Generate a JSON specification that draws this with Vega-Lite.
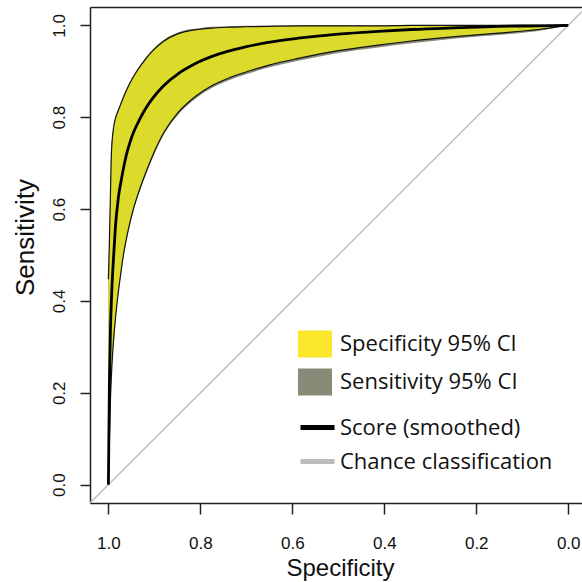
{
  "$schema": "https://vega.github.io/schema/vega-lite/v6.json",
  "autosize": "none",
  "width": 492,
  "height": 496,
  "padding": {"left": 90, "top": 7, "right": 0, "bottom": 79},
  "background": "white",
  "config": {
    "view": {"stroke": null},
    "axis": {"grid": false, "labelFont": "Liberation Sans", "titleFont": "Liberation Sans", "labelColor": "#111", "titleColor": "#111", "titleFontWeight": "normal", "domainColor": "#222", "domainWidth": 1.5, "tickColor": "#222", "tickWidth": 1.5}
  },
  "datasets": {
    "band": [
      {"spec": 1.0, "lo": 0.0, "mid": 0.0, "hi": 0.447, "se_lo": 0.0, "se_hi": 0.45},
      {"spec": 0.9978, "lo": 0.1, "mid": 0.22, "hi": 0.53, "se_lo": 0.095, "se_hi": 0.533},
      {"spec": 0.9957, "lo": 0.18, "mid": 0.33, "hi": 0.625, "se_lo": 0.175, "se_hi": 0.628},
      {"spec": 0.9935, "lo": 0.235, "mid": 0.4, "hi": 0.72, "se_lo": 0.23, "se_hi": 0.723},
      {"spec": 0.9891, "lo": 0.31, "mid": 0.49, "hi": 0.775, "se_lo": 0.305, "se_hi": 0.778},
      {"spec": 0.9848, "lo": 0.36, "mid": 0.56, "hi": 0.797, "se_lo": 0.355, "se_hi": 0.8},
      {"spec": 0.9783, "lo": 0.42, "mid": 0.625, "hi": 0.815, "se_lo": 0.415, "se_hi": 0.818},
      {"spec": 0.9717, "lo": 0.47, "mid": 0.665, "hi": 0.832, "se_lo": 0.465, "se_hi": 0.835},
      {"spec": 0.9674, "lo": 0.5, "mid": 0.688, "hi": 0.843, "se_lo": 0.495, "se_hi": 0.846},
      {"spec": 0.9609, "lo": 0.535, "mid": 0.718, "hi": 0.858, "se_lo": 0.53, "se_hi": 0.861},
      {"spec": 0.9522, "lo": 0.575, "mid": 0.748, "hi": 0.876, "se_lo": 0.57, "se_hi": 0.879},
      {"spec": 0.9457, "lo": 0.6, "mid": 0.766, "hi": 0.888, "se_lo": 0.595, "se_hi": 0.891},
      {"spec": 0.9348, "lo": 0.635, "mid": 0.79, "hi": 0.905, "se_lo": 0.63, "se_hi": 0.908},
      {"spec": 0.9196, "lo": 0.677, "mid": 0.818, "hi": 0.926, "se_lo": 0.672, "se_hi": 0.929},
      {"spec": 0.9022, "lo": 0.72, "mid": 0.843, "hi": 0.946, "se_lo": 0.715, "se_hi": 0.949},
      {"spec": 0.8804, "lo": 0.765, "mid": 0.868, "hi": 0.965, "se_lo": 0.76, "se_hi": 0.968},
      {"spec": 0.8478, "lo": 0.811, "mid": 0.895, "hi": 0.982, "se_lo": 0.806, "se_hi": 0.985},
      {"spec": 0.8196, "lo": 0.838, "mid": 0.912, "hi": 0.989, "se_lo": 0.833, "se_hi": 0.992},
      {"spec": 0.8043, "lo": 0.85, "mid": 0.92, "hi": 0.991, "se_lo": 0.845, "se_hi": 0.994},
      {"spec": 0.7761, "lo": 0.868, "mid": 0.932, "hi": 0.994, "se_lo": 0.863, "se_hi": 0.997},
      {"spec": 0.7391, "lo": 0.885, "mid": 0.944, "hi": 0.996, "se_lo": 0.88, "se_hi": 0.998},
      {"spec": 0.7022, "lo": 0.898, "mid": 0.953, "hi": 0.997, "se_lo": 0.893, "se_hi": 0.999},
      {"spec": 0.6522, "lo": 0.913, "mid": 0.963, "hi": 0.998, "se_lo": 0.908, "se_hi": 0.999},
      {"spec": 0.587, "lo": 0.928, "mid": 0.972, "hi": 0.999, "se_lo": 0.923, "se_hi": 1.0},
      {"spec": 0.5, "lo": 0.945, "mid": 0.981, "hi": 0.999, "se_lo": 0.94, "se_hi": 1.0},
      {"spec": 0.413, "lo": 0.957, "mid": 0.987, "hi": 0.999, "se_lo": 0.952, "se_hi": 1.0},
      {"spec": 0.3413, "lo": 0.966, "mid": 0.991, "hi": 1.0, "se_lo": 0.961, "se_hi": 1.0},
      {"spec": 0.2391, "lo": 0.976, "mid": 0.995, "hi": 1.0, "se_lo": 0.972, "se_hi": 1.0},
      {"spec": 0.1522, "lo": 0.983, "mid": 0.998, "hi": 1.0, "se_lo": 0.979, "se_hi": 1.0},
      {"spec": 0.0652, "lo": 0.991, "mid": 0.999, "hi": 1.0, "se_lo": 0.988, "se_hi": 1.0},
      {"spec": 0.0, "lo": 1.0, "mid": 1.0, "hi": 1.0, "se_lo": 1.0, "se_hi": 1.0}
    ],
    "diag": [
      {"spec": 1.04, "sens": -0.04},
      {"spec": -0.03, "sens": 1.03}
    ]
  },
  "resolve": {"axis": {"x": "independent"}},
  "layer": [
    {
      "data": {"name": "diag"},
      "mark": {"type": "line", "strokeWidth": 1.4, "clip": true},
      "encoding": {
        "x": {"field": "spec", "type": "quantitative", "scale": {"domain": [-0.03, 1.04], "reverse": true, "nice": false, "zero": false},
          "axis": {"orient": "top", "ticks": false, "labels": false, "title": null, "domain": true}},
        "y": {"field": "sens", "type": "quantitative", "scale": {"domain": [-0.04, 1.04], "nice": false, "zero": false},
          "axis": {"orient": "left", "values": [0, 0.2, 0.4, 0.6, 0.8, 1.0], "format": ".1f", "labelFontSize": 17, "labelAngle": -90, "labelAlign": "center", "labelBaseline": "bottom", "labelPadding": 12, "tickSize": 10, "title": "Sensitivity", "titleFontSize": 26, "titleAngle": -90, "titleX": -65, "titleY": 230, "titleAlign": "center", "titleBaseline": "middle"}},
        "stroke": {"datum": "Chance classification", "type": "nominal",
          "scale": {"domain": ["Score (smoothed)", "Chance classification"], "range": ["#000000", "#bbbbbb"]},
          "legend": {"orient": "none", "legendX": 208, "legendY": 401, "title": null, "symbolType": "stroke", "symbolSize": 1156, "symbolStrokeWidth": 5, "labelFontSize": 22, "labelFont": "Open Sans", "labelColor": "#111", "labelOffset": 3, "rowPadding": 3, "padding": 0, "labelLimit": 400}}
      }
    },
    {
      "data": {"name": "band"},
      "mark": {"type": "area", "orient": "vertical", "interpolate": "monotone", "clip": true, "fill": "#8a8a78"},
      "encoding": {
        "x": {"field": "spec", "type": "quantitative",
          "axis": {"orient": "bottom", "values": [1.0, 0.8, 0.6, 0.4, 0.2, 0.0], "format": ".1f", "labelFontSize": 17, "labelFlush": false, "labelOverlap": false, "labelPadding": 21, "tickSize": 11, "title": "Specificity", "titleFontSize": 24, "titleX": 250, "titleY": 65, "titleAlign": "center", "titleBaseline": "middle"}},
        "y": {"field": "se_lo", "type": "quantitative"},
        "y2": {"field": "se_hi"}
      }
    },
    {
      "data": {"name": "band"},
      "mark": {"type": "area", "orient": "vertical", "interpolate": "monotone", "clip": true, "fill": "#dcdb2b"},
      "encoding": {
        "x": {"field": "spec", "type": "quantitative", "axis": null},
        "y": {"field": "lo", "type": "quantitative"},
        "y2": {"field": "hi"}
      }
    },
    {
      "data": {"name": "band"},
      "mark": {"type": "line", "interpolate": "monotone", "color": "#111", "strokeWidth": 1.2, "clip": true},
      "encoding": {
        "x": {"field": "spec", "type": "quantitative", "axis": null},
        "y": {"field": "hi", "type": "quantitative"}
      }
    },
    {
      "data": {"name": "band"},
      "mark": {"type": "line", "interpolate": "monotone", "color": "#111", "strokeWidth": 1.2, "clip": true},
      "encoding": {
        "x": {"field": "spec", "type": "quantitative", "axis": null},
        "y": {"field": "lo", "type": "quantitative"}
      }
    },
    {
      "data": {"name": "band"},
      "mark": {"type": "line", "interpolate": "monotone", "strokeWidth": 2.8, "clip": true},
      "encoding": {
        "x": {"field": "spec", "type": "quantitative", "axis": null},
        "y": {"field": "mid", "type": "quantitative"},
        "stroke": {"datum": "Score (smoothed)", "type": "nominal"}
      }
    },
    {
      "data": {"name": "band"},
      "transform": [{"filter": "false"}],
      "mark": {"type": "square", "filled": true, "opacity": 1},
      "encoding": {
        "x": {"field": "spec", "type": "quantitative", "axis": null},
        "y": {"field": "mid", "type": "quantitative"},
        "fill": {"datum": "Specificity 95% CI", "type": "nominal",
          "scale": {"domain": ["Specificity 95% CI", "Sensitivity 95% CI"], "range": ["#fbe82c", "#8a8a78"]},
          "legend": {"orient": "none", "legendX": 208, "legendY": 320, "title": null, "symbolType": "M-1,-0.8H1V0.8H-1Z", "symbolSize": 1156, "symbolStrokeWidth": 0, "symbolOpacity": 1, "labelFontSize": 22, "labelFont": "Open Sans", "labelColor": "#111", "labelOffset": 8, "rowPadding": 7, "padding": 0, "labelLimit": 400}}
      }
    }
  ]
}
